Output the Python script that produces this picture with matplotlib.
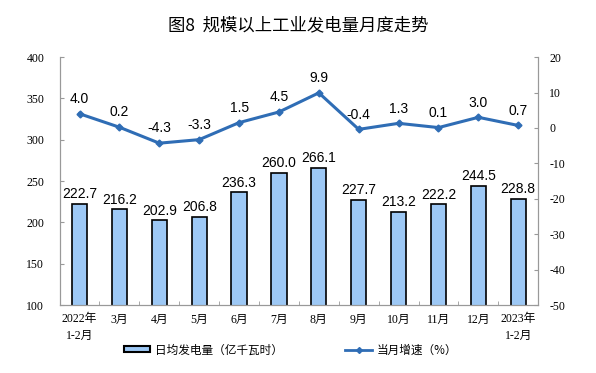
import matplotlib.pyplot as plt
from matplotlib.lines import Line2D
from matplotlib.patches import Patch

plt.rcParams['font.family'] = ['Liberation Serif', 'Noto Sans CJK SC', 'DejaVu Sans']
plt.rcParams['axes.unicode_minus'] = False

months = ['2022年\n1-2月', '3月', '4月', '5月', '6月', '7月', '8月', '9月',
          '10月', '11月', '12月', '2023年\n1-2月']
daily_output = [222.7, 216.2, 202.9, 206.8, 236.3, 260.0, 266.1, 227.7,
                213.2, 222.2, 244.5, 228.8]
growth = [4.0, 0.2, -4.3, -3.3, 1.5, 4.5, 9.9, -0.4, 1.3, 0.1, 3.0, 0.7]

bar_color = '#9DC8F5'
line_color = '#2F6DB5'
spine_color = '#999999'

fig = plt.figure(figsize=(5.96, 3.73), dpi=100)
ax = fig.add_axes([0.1, 0.182, 0.803, 0.665])
ax2 = ax.twinx()

x = list(range(len(months)))
ax.bar(x, daily_output, width=0.38, color=bar_color, edgecolor='black',
       linewidth=1.2, bottom=0, zorder=2)
for xi, v in zip(x, daily_output):
    ax.text(xi, v + 3, f'{v:.1f}', ha='center', va='bottom',
            fontsize=10, family='Liberation Sans')

ax.set_ylim(100, 400)
ax.set_yticks(range(100, 401, 50))
ax.set_xlim(-0.5, len(months) - 0.5)
ax.set_xticks(x)
ax.set_xticklabels(months, fontsize=8.5, linespacing=1.5)
ax.set_xticks([i + 0.5 for i in x[:-1]], minor=True)
ax.tick_params(axis='x', which='major', length=0, pad=6)
ax.tick_params(axis='x', which='minor', direction='in', length=3, color=spine_color)
ax.tick_params(axis='y', direction='in', length=3, color=spine_color, labelsize=8.5, pad=11)

ax2.plot(x, growth, color=line_color, linewidth=2.2, marker='D', markersize=3.5, zorder=3)
for xi, v in zip(x, growth):
    ax2.text(xi, v + 2.2, f'{v:.1f}', ha='center', va='bottom',
             fontsize=10, family='Liberation Sans')
ax2.set_ylim(-50, 20)
ax2.set_yticks(range(-50, 21, 10))
ax2.tick_params(axis='y', direction='in', length=3, color=spine_color, labelsize=8.5, pad=8)

for a in (ax, ax2):
    a.spines['top'].set_visible(False)
    for s in ('left', 'right', 'bottom'):
        a.spines[s].set_color(spine_color)

fig.text(0.5, 0.932, '图8  规模以上工业发电量月度走势', ha='center', va='center',
         fontsize=12.5, family=['Noto Sans CJK SC', 'DejaVu Sans'])

handles = [Patch(facecolor=bar_color, edgecolor='black', linewidth=1.5),
           Line2D([0], [0], color=line_color, linewidth=2, marker='D', markersize=3)]
fig.legend(handles, ['日均发电量（亿千瓦时）', '当月增速（%）'], loc='center',
           bbox_to_anchor=(0.487, 0.062), ncol=2, frameon=False,
           columnspacing=5.4, handlelength=2.3, handleheight=0.45, handletextpad=0.35,
           prop={'family': ['Noto Sans CJK SC', 'DejaVu Sans'], 'size': 8.4})

fig.savefig('out.png', dpi=100)
